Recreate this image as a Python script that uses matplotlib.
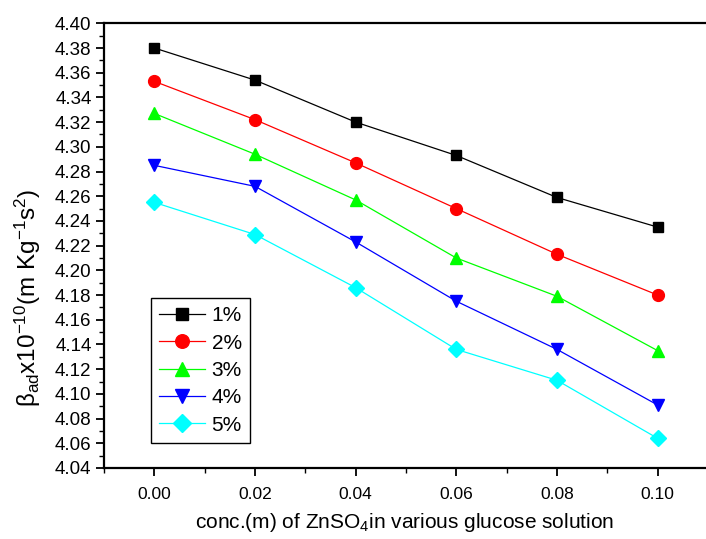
import matplotlib
matplotlib.use("Agg")
import matplotlib.pyplot as plt
from matplotlib.ticker import MultipleLocator, FormatStrFormatter

plt.rcParams['font.family'] = ['Liberation Sans', 'DejaVu Sans']
plt.rcParams['mathtext.fontset'] = 'custom'
plt.rcParams['mathtext.rm'] = 'Liberation Sans'
plt.rcParams['mathtext.it'] = 'Liberation Sans'
plt.rcParams['mathtext.default'] = 'regular'

conc = [0.00, 0.02, 0.04, 0.06, 0.08, 0.10]
labels = ['1%', '2%', '3%', '4%', '5%']
s1 = [4.380, 4.354, 4.320, 4.293, 4.259, 4.235]
s2 = [4.353, 4.322, 4.287, 4.250, 4.213, 4.180]
s3 = [4.327, 4.294, 4.257, 4.210, 4.179, 4.135]
s4 = [4.285, 4.268, 4.223, 4.175, 4.136, 4.091]
s5 = [4.255, 4.229, 4.186, 4.136, 4.111, 4.064]
series = [s1, s2, s3, s4, s5]
colors = ['#000000', '#FF0000', '#00FF00', '#0000FF', '#00FFFF']
markers = ['s', 'o', '^', 'v', 'D']
msizes = [7.5, 8.5, 9, 9, 8]

W, H = 706, 539
fig = plt.figure(figsize=(W / 100, H / 100), dpi=100)
left, right, top, bottom = 104, 708, 23.3, 468
ax = fig.add_axes([left / W, (H - bottom) / H, (right - left) / W, (bottom - top) / H])

for y, c, m, ms, lab in zip(series, colors, markers, msizes, labels):
    ax.plot(conc, y, color=c, marker=m, markersize=ms, linewidth=0.9,
            markeredgecolor=c, markerfacecolor=c, label=lab)

ax.set_xlim(-0.01, 0.11)
ax.set_ylim(4.04, 4.40)
ax.xaxis.set_major_locator(MultipleLocator(0.02))
ax.xaxis.set_minor_locator(MultipleLocator(0.01))
ax.yaxis.set_major_locator(MultipleLocator(0.02))
ax.yaxis.set_minor_locator(MultipleLocator(0.01))
ax.xaxis.set_major_formatter(FormatStrFormatter('%.2f'))
ax.yaxis.set_major_formatter(FormatStrFormatter('%.2f'))

ax.spines['right'].set_visible(False)
ax.spines['left'].set_linewidth(1.6)
ax.spines['bottom'].set_linewidth(1.6)
ax.spines['top'].set_linewidth(1.6)

ax.tick_params(axis='both', which='major', direction='out', length=6, width=1.3)
ax.tick_params(axis='both', which='minor', direction='out', length=3.5, width=1.0)
ax.tick_params(axis='y', labelsize=13.5, pad=3)
ax.tick_params(axis='x', labelsize=12.5, pad=8)
ax.tick_params(top=False, right=False, which='both')

ax.set_xlabel('conc.(m) of ZnSO$_{4}$in various glucose solution', fontsize=15)
ax.set_ylabel('β$_{ad}$x10$^{-10}$(m Kg$^{-1}$s$^{2}$)', fontsize=17.5)
ax.xaxis.set_label_coords((405 - left) / (right - left), -(523 - bottom) / (bottom - top))
ax.xaxis.label.set_va('center')
ax.yaxis.set_label_coords(-(104 - 28) / (right - left), (bottom - 298) / (bottom - top))
ax.yaxis.label.set_va('center')

leg = ax.legend(loc='lower left', bbox_to_anchor=(0.078, 0.056), fontsize=15,
                handlelength=2.2, handletextpad=0.3, borderpad=0.4, labelspacing=0.4,
                borderaxespad=0, markerscale=1.15, fancybox=False, framealpha=1,
                edgecolor='black')
leg.get_frame().set_linewidth(1.0)

fig.savefig('out.png', dpi=100)
